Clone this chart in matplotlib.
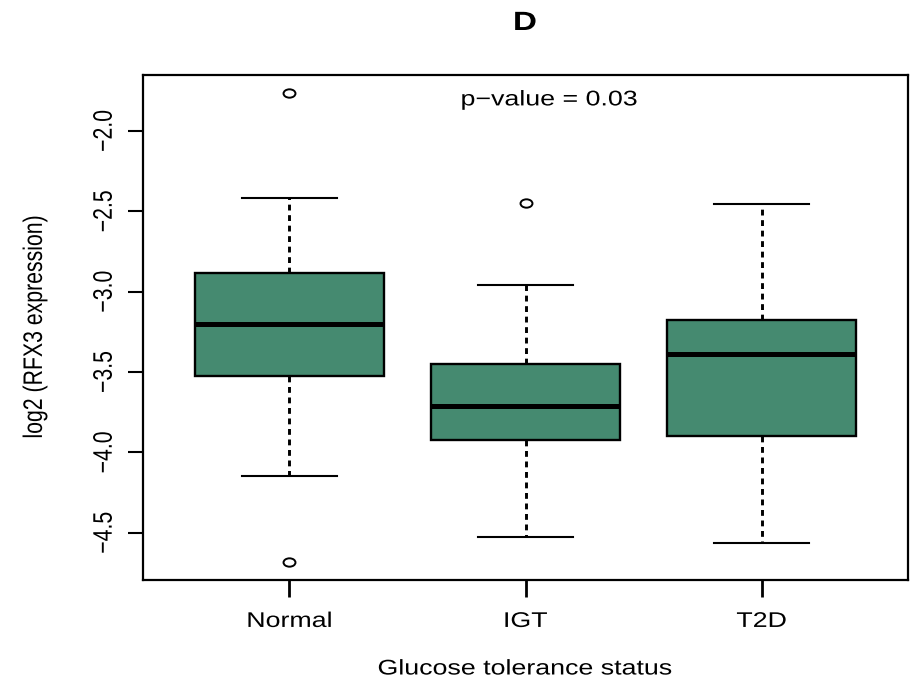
import matplotlib
matplotlib.use("Agg")
import matplotlib.pyplot as plt
from matplotlib import patheffects
from matplotlib.transforms import Affine2D
from matplotlib.path import Path

plt.rcParams['font.family'] = ['Liberation Sans', 'DejaVu Sans']

categories = ["Normal", "IGT", "T2D"]
whisker_low = [-4.147, -4.526, -4.564]
q1 = [-3.525, -3.923, -3.898]
median = [-3.201, -3.711, -3.385]
q3 = [-2.884, -3.450, -3.176]
whisker_high = [-2.417, -2.958, -2.454]
outliers = [[-1.764, -4.682], [-2.448], []]
yticks = [-2.0, -2.5, -3.0, -3.5, -4.0, -4.5]
title = "D"
annotation = "p\u2212value = 0.03"


class HStretch(patheffects.AbstractPathEffect):
    """Stretch rendered text horizontally (screen x) about its own centre."""
    def __init__(self, sx):
        super().__init__()
        self.sx = sx

    def draw_path(self, renderer, gc, tpath, affine, rgbFace=None):
        ext = tpath.get_extents(affine)
        cx = 0.5 * (ext.x0 + ext.x1)
        new = affine + Affine2D().translate(-cx, 0).scale(self.sx, 1).translate(cx, 0)
        renderer.draw_path(gc, tpath, new, rgbFace)


SX = 1.26
pe = [HStretch(SX)]
FS = 15.3

stats = []
for i, c in enumerate(categories):
    stats.append(dict(label=c, med=median[i], q1=q1[i], q3=q3[i],
                      whislo=whisker_low[i], whishi=whisker_high[i],
                      fliers=outliers[i]))

ellipse = Path.unit_circle().transformed(Affine2D().scale(1.0, 0.7))

fig = plt.figure(figsize=(9.15, 6.86), dpi=100)
ax = fig.add_axes([143/915, 1 - 580/686, (908-143)/915, (580-75)/686])

ax.bxp(stats, positions=[1, 2, 3], widths=0.8, patch_artist=True,
       boxprops=dict(facecolor="#458a70", edgecolor="black", linewidth=1.7),
       medianprops=dict(color="black", linewidth=3.6, solid_capstyle="butt"),
       whiskerprops=dict(color="black", linewidth=2.1, linestyle=(0, (2.0, 1.6))),
       capprops=dict(color="black", linewidth=1.5),
       capwidths=0.4,
       flierprops=dict(marker=ellipse, markerfacecolor="none", markeredgecolor="black",
                       markersize=8.6, markeredgewidth=1.4))

ax.set_xlim(0.38, 3.62)
ax.set_ylim(-4.794, -1.652)
ax.set_yticks(yticks)
ax.set_yticklabels([f"\u2212{abs(v):.1f}" for v in yticks], rotation=90, va="center")
ax.set_xticks([1, 2, 3])
ax.set_xticklabels(categories)
ax.tick_params(axis="both", labelsize=FS, length=11, width=1.5, direction="out")
ax.tick_params(axis="x", length=12, width=2)
ax.tick_params(axis="y", pad=10)
ax.tick_params(axis="x", pad=11)
for s in ax.spines.values():
    s.set_linewidth(1.6)
    s.set_color("black")

for lab in ax.get_xticklabels() + ax.get_yticklabels():
    lab.set_path_effects(pe)

ax.text(2.1, -1.807, annotation, ha="center", va="center", fontsize=FS, path_effects=pe)
fig.text(525/915, 1 - 23/686, title, ha="center", va="center", fontsize=19,
         fontweight="bold", path_effects=pe)
fig.text(525/915, 1 - 669/686, "Glucose tolerance status", ha="center", va="center",
         fontsize=FS, path_effects=pe)
fig.text(35/915, 1 - 327/686, "log2 (RFX3 expression)", ha="center", va="center",
         fontsize=FS, rotation=90, path_effects=pe)

fig.savefig("out.png", dpi=100)
